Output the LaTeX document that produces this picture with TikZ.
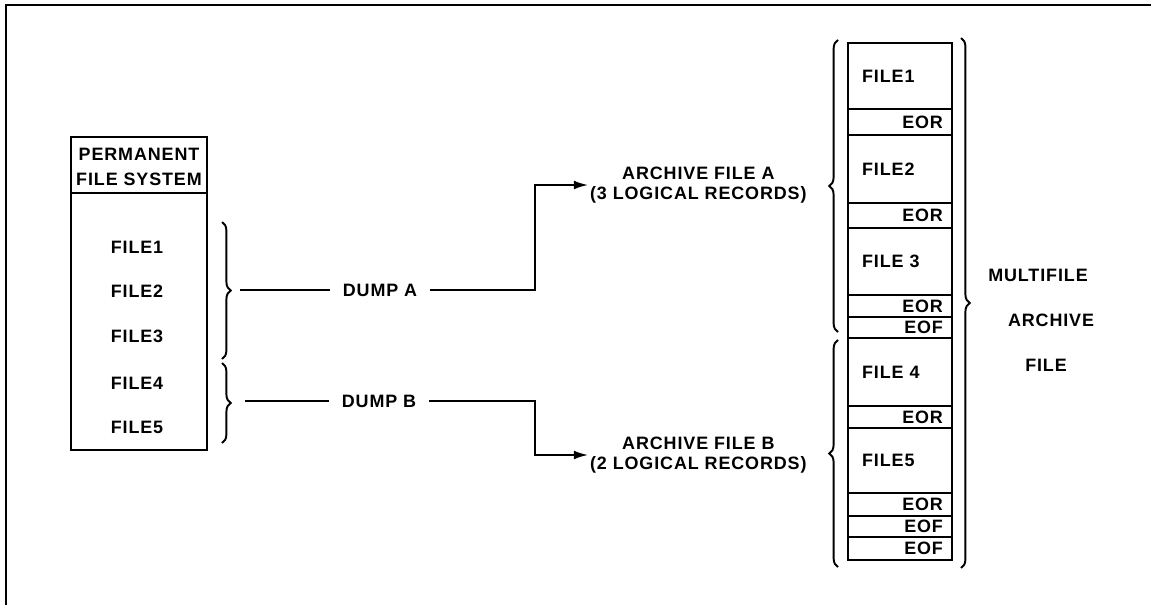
\documentclass[tikz,border=0pt]{standalone}
\usepackage{fontspec}
\setmainfont{Liberation Sans}[LetterSpace=5]
\usetikzlibrary{arrows.meta,decorations.pathreplacing}
\tikzset{
  box/.style={line width=1.2pt},
  brc/.style={line width=1.1pt, decorate, decoration={brace, amplitude=5pt}},
  link/.style={line width=1pt},
  arr/.style={link, -{Latex[length=8pt,width=5pt]}},
  lbl/.style={font=\fontsize{10.2}{11.5}\selectfont\bfseries, inner sep=1pt},
}
\begin{document}
\begin{tikzpicture}[x=0.02cm, y=-0.02cm]
\useasboundingbox (0,0) rectangle (1151,605);
\draw[line width=1.4pt] (1151,5) -- (6,5) -- (6,605);
% permanent file system
\draw[box] (71,137) rectangle (207,450);
\draw[box] (71,193) -- (207,193);
\node[lbl, align=center, font=\fontsize{10.2}{14}\selectfont\bfseries] (hdr) at (139,167) {PERMANENT\\FILE SYSTEM};
\foreach \y/\n [count=\i] in {247/FILE1, 291/FILE2, 336/FILE3, 383/FILE4, 427/FILE5}
  \node[lbl] (pf\i) at (137,\y) {\n};
\draw[brc] (222,222) -- (222,359);
\draw[brc] (222,363) -- (222,443);
% dumps
\coordinate (tipa) at (240,290);
\coordinate (tipb) at (245,401);
\node[lbl, inner xsep=7pt] (dumpa) at (380,290) {DUMP A};
\node[lbl, inner xsep=7pt] (dumpb) at (379,401) {DUMP B};
\coordinate (benda) at (535,290);
\coordinate (bendb) at (535,401);
\node[lbl, align=center, anchor=west] (arca) at (588,185) {ARCHIVE FILE A\\(3 LOGICAL RECORDS)};
\node[lbl, align=center, anchor=west] (arcb) at (588,455) {ARCHIVE FILE B\\(2 LOGICAL RECORDS)};
\draw[link] (tipa) -- (dumpa);
\draw[link] (tipb) -- (dumpb);
\draw[arr] (dumpa) -- (benda) |- (arca.west);
\draw[arr] (dumpb) -- (bendb) |- (arcb.west);
% multifile archive
\foreach \t/\b/\n [count=\i] in {43/109/FILE1, 135/203/FILE2, 228/295/FILE 3, 338/406/FILE 4, 428/493/FILE5} {
  \draw[box] (848,\t) rectangle (952,\b);
  \node[lbl, anchor=west] (af\i) at (860,{(\t+\b)/2}) {\n};
}
\foreach \t/\b/\n [count=\i] in {109/135/EOR, 203/228/EOR, 295/317/EOR, 317/338/EOF, 406/428/EOR, 493/516/EOR, 516/537/EOF, 537/560/EOF} {
  \draw[box] (848,\t) rectangle (952,\b);
  \node[lbl, anchor=east] (tg\i) at (945,{(\t+\b)/2}) {\n};
}
\draw[brc] (838,332) -- (838,40);
\draw[brc] (838,567) -- (838,340);
\draw[brc] (961,38) -- (961,568);
\node[lbl] (mf1) at (1038,275) {MULTIFILE};
\node[lbl] (mf2) at (1051,320) {ARCHIVE};
\node[lbl] (mf3) at (1046,365) {FILE};
\end{tikzpicture}
\end{document}
